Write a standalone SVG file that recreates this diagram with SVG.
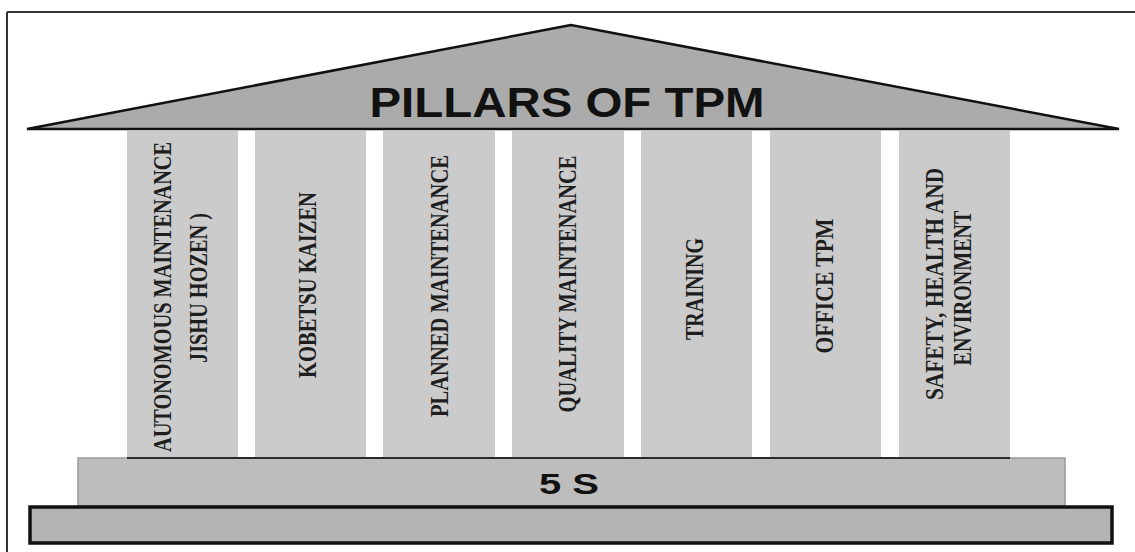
<svg xmlns="http://www.w3.org/2000/svg" width="1135" height="552" viewBox="0 0 1135 552">
  <style>
    .pillar { fill: #cbcbcb; }
    .ptxt { font-family: "Liberation Serif", "Times New Roman", serif; font-weight: bold; font-size: 25px; fill: #1e1e1e; text-anchor: middle; }
    .title { font-family: "Liberation Sans", Arial, sans-serif; font-weight: bold; fill: #111; text-anchor: middle; }
  </style>
  <rect x="0" y="0" width="1135" height="552" fill="#ffffff"/>
  <g id="frame" fill="none" stroke="#333" stroke-width="2">
    <line x1="7" y1="12" x2="1135" y2="12"/>
    <line x1="7" y1="12" x2="7" y2="552"/>
  </g>
  <g id="roof">
    <polygon points="571,25 27,129 1119,129" fill="#ababab" stroke="#111" stroke-width="2.5" stroke-linejoin="miter"/>
    <text class="title" x="567" y="117" font-size="43" textLength="395" lengthAdjust="spacingAndGlyphs">PILLARS OF TPM</text>
  </g>
  <g id="pillar-autonomous">
    <rect class="pillar" x="127" y="131" width="111" height="326"/>
    <text class="ptxt" transform="translate(163,297) rotate(-90)" x="0" y="8" textLength="310" lengthAdjust="spacingAndGlyphs">AUTONOMOUS MAINTENANCE</text>
    <text class="ptxt" transform="translate(199,288) rotate(-90)" x="0" y="8" textLength="150" lengthAdjust="spacingAndGlyphs">JISHU HOZEN )</text>
  </g>
  <g id="pillar-kobetsu">
    <rect class="pillar" x="255" y="131" width="111" height="326"/>
    <text class="ptxt" transform="translate(308,285) rotate(-90)" x="0" y="8" textLength="186" lengthAdjust="spacingAndGlyphs">KOBETSU KAIZEN</text>
  </g>
  <g id="pillar-planned">
    <rect class="pillar" x="383" y="131" width="112" height="326"/>
    <text class="ptxt" transform="translate(440,286) rotate(-90)" x="0" y="8" textLength="262" lengthAdjust="spacingAndGlyphs">PLANNED MAINTENANCE</text>
  </g>
  <g id="pillar-quality">
    <rect class="pillar" x="512" y="131" width="112" height="326"/>
    <text class="ptxt" transform="translate(568,284) rotate(-90)" x="0" y="8" textLength="257" lengthAdjust="spacingAndGlyphs">QUALITY MAINTENANCE</text>
  </g>
  <g id="pillar-training">
    <rect class="pillar" x="641" y="131" width="111" height="326"/>
    <text class="ptxt" transform="translate(695,289) rotate(-90)" x="0" y="8" textLength="102" lengthAdjust="spacingAndGlyphs">TRAINING</text>
  </g>
  <g id="pillar-office">
    <rect class="pillar" x="770" y="131" width="111" height="326"/>
    <text class="ptxt" transform="translate(825,286) rotate(-90)" x="0" y="8" textLength="135" lengthAdjust="spacingAndGlyphs">OFFICE TPM</text>
  </g>
  <g id="pillar-safety">
    <rect class="pillar" x="899" y="131" width="111" height="326"/>
    <text class="ptxt" transform="translate(935,284) rotate(-90)" x="0" y="8" textLength="232" lengthAdjust="spacingAndGlyphs">SAFETY, HEALTH AND</text>
    <text class="ptxt" transform="translate(963,288) rotate(-90)" x="0" y="8" textLength="155" lengthAdjust="spacingAndGlyphs">ENVIRONMENT</text>
  </g>
  <g id="five-s">
    <rect x="78" y="458" width="987" height="48" fill="#bdbdbd" stroke="#9a9a9a" stroke-width="1.5"/>
    <line x1="127" y1="458" x2="1010" y2="458" stroke="#2a2a2a" stroke-width="2"/>
    <text class="title" x="569" y="494" font-size="29" textLength="60" lengthAdjust="spacingAndGlyphs">5 S</text>
  </g>
  <g id="base">
    <rect x="30" y="507" width="1082" height="36" fill="#b3b3b3" stroke="#111" stroke-width="3.5"/>
  </g>
</svg>
